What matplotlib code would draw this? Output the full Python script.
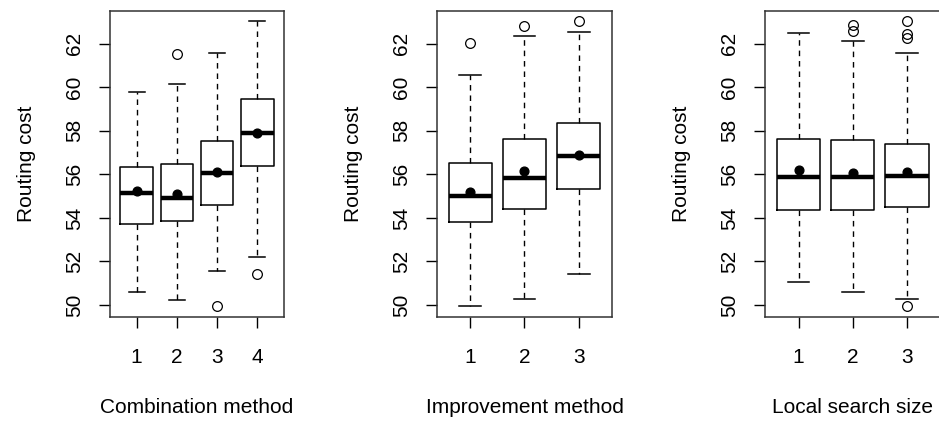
import matplotlib
matplotlib.use('Agg')
import matplotlib.pyplot as plt

plt.rcParams['font.family'] = ['Liberation Sans', 'DejaVu Sans']

y_label = "Routing cost"
y_ticks = [50, 52, 54, 56, 58, 60, 62]
y_lim = (49.46, 63.52)

# Panel 1: Combination method
comb_title = "Combination method"
comb_labels = ["1", "2", "3", "4"]
comb_whislo = [50.60, 50.24, 51.58, 52.20]
comb_q1 = [53.71, 53.84, 54.57, 56.40]
comb_med = [55.14, 54.93, 56.08, 57.89]
comb_q3 = [56.32, 56.48, 57.52, 59.44]
comb_whishi = [59.77, 60.13, 61.57, 63.04]
comb_mean = [55.22, 55.12, 56.10, 57.92]
comb_fliers = [[], [61.51], [49.95], [51.41]]

# Panel 2: Improvement method
impr_title = "Improvement method"
impr_labels = ["1", "2", "3"]
impr_whislo = [49.95, 50.26, 51.41]
impr_q1 = [53.79, 54.43, 55.34]
impr_med = [54.99, 55.85, 56.85]
impr_q3 = [56.52, 57.64, 58.35]
impr_whishi = [60.58, 62.38, 62.52]
impr_mean = [55.17, 56.14, 56.89]
impr_fliers = [[62.02], [62.80], [63.04]]

# Panel 3: Local search size
ls_title = "Local search size"
ls_labels = ["1", "2", "3"]
ls_whislo = [51.06, 50.60, 50.26]
ls_q1 = [54.34, 54.34, 54.48]
ls_med = [55.86, 55.86, 55.94]
ls_q3 = [57.64, 57.58, 57.38]
ls_whishi = [62.49, 62.11, 61.59]
ls_mean = [56.18, 56.05, 56.09]
ls_fliers = [[], [62.85, 62.61], [63.04, 62.43, 62.28, 49.95]]

W, H = 939, 428
fig = plt.figure(figsize=(W / 100, H / 100), dpi=100)

panels = [
    (comb_title, comb_labels, comb_whislo, comb_q1, comb_med, comb_q3, comb_whishi, comb_mean, comb_fliers, 110, 284),
    (impr_title, impr_labels, impr_whislo, impr_q1, impr_med, impr_q3, impr_whishi, impr_mean, impr_fliers, 436.7, 612.3),
    (ls_title, ls_labels, ls_whislo, ls_q1, ls_med, ls_q3, ls_whishi, ls_mean, ls_fliers, 765.0, 940.5),
]

top_px, bot_px = 10.7, 316.7
FS = 15

for (title, labels, wlo, q1, med, q3, whi, mean, fl, x0, x1) in panels:
    ax = fig.add_axes([x0 / W, 1 - bot_px / H, (x1 - x0) / W, (bot_px - top_px) / H])
    n = len(labels)
    stats = []
    for i in range(n):
        stats.append(dict(med=med[i], q1=q1[i], q3=q3[i], whislo=wlo[i], whishi=whi[i],
                          mean=mean[i], fliers=fl[i], label=labels[i]))
    pos = list(range(1, n + 1))
    ax.bxp(stats, positions=pos, widths=0.8, capwidths=0.4, showmeans=True, showfliers=True,
           boxprops=dict(color='black', linewidth=1.1),
           whiskerprops=dict(color='black', linewidth=1.0, linestyle=(0, (4, 3.5))),
           capprops=dict(color='black', linewidth=1.1),
           medianprops=dict(color='black', linewidth=3.2, solid_capstyle='butt'),
           meanprops=dict(marker='o', markerfacecolor='black', markeredgecolor='black', markersize=6.3),
           flierprops=dict(marker='o', markerfacecolor='none', markeredgecolor='black',
                           markersize=7, markeredgewidth=0.9))
    ext = 0.04 * n
    ax.set_xlim(0.5 - ext, n + 0.5 + ext)
    ax.set_ylim(*y_lim)
    ax.set_yticks(y_ticks)
    ax.set_yticklabels([str(t) for t in y_ticks], rotation=90, va='center')
    ax.set_xticks(pos)
    ax.set_xticklabels(labels)
    ax.tick_params(axis='both', direction='out', length=7.7, width=1.0, labelsize=FS, color='black')
    ax.tick_params(axis='y', pad=11)
    ax.tick_params(axis='x', pad=14.5)
    for s in ax.spines.values():
        s.set_linewidth(1.1)
        s.set_color('#333333')
    ax.set_xlabel(title, fontsize=FS, labelpad=22.5)
    ax.set_ylabel(y_label, fontsize=FS, labelpad=21)

fig.savefig('out.png', dpi=100)
